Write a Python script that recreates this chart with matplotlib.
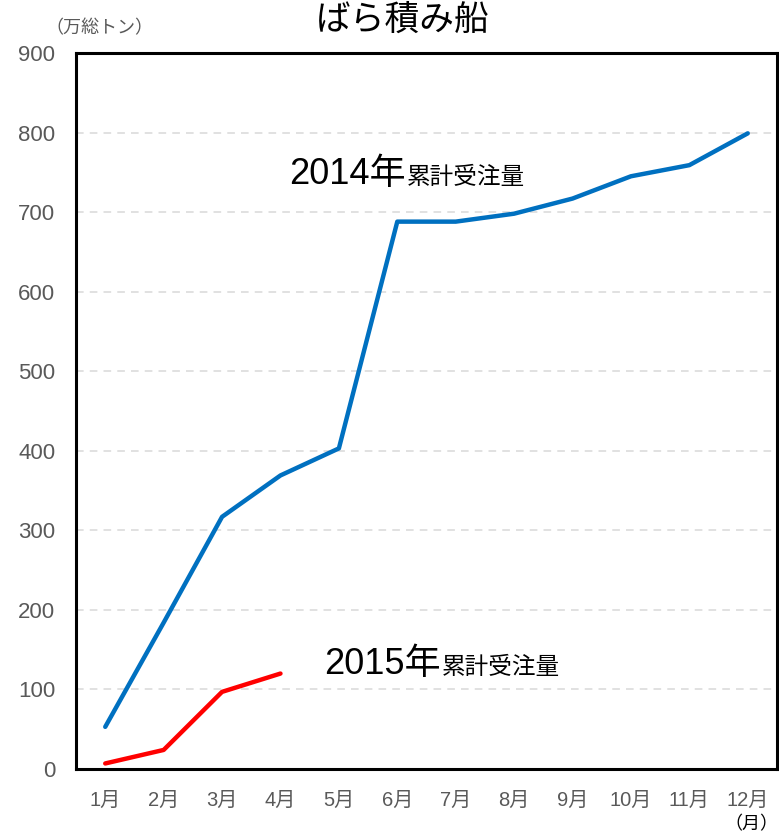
import matplotlib.pyplot as plt
import numpy as np

plt.rcParams['font.family'] = ['Liberation Sans', 'Noto Sans CJK JP', 'DejaVu Sans']

months = ['1月', '2月', '3月', '4月', '5月', '6月', '7月', '8月', '9月', '10月', '11月', '12月']
orders_2014 = [53, 184, 317, 369, 403, 688, 688, 698, 717, 745, 759, 799]
orders_2015 = [7, 24, 97, 120]
yticks = [0, 100, 200, 300, 400, 500, 600, 700, 800, 900]

fig = plt.figure(figsize=(7.79, 8.34), dpi=100)
ax = fig.add_axes([0.0976, 0.0779, 0.8998, 0.8586])

x = np.arange(len(months))
ax.plot(x, orders_2014, color='#0070C0', lw=3.2, solid_capstyle='round', zorder=3)
ax.plot(x[:len(orders_2015)], orders_2015, color='#FF0000', lw=3.2, solid_capstyle='round', zorder=3)

ax.set_xlim(-0.5, 11.5)
ax.set_ylim(0, 900)
ax.set_xticks(x)
ax.set_xticklabels(months)
ax.set_yticks(yticks)
ax.tick_params(axis='both', length=0, colors='#595959')
ax.tick_params(axis='x', pad=16, labelsize=14.5)
ax.tick_params(axis='y', pad=15, labelsize=16)

for v in yticks[1:-1]:
    ax.axhline(v, color='#d9d9d9', lw=1.1, ls=(0, (5, 4)), zorder=1)

for s in ax.spines.values():
    s.set_linewidth(2.2)
    s.set_color('black')

# labels on the lines
ax.text(3.15, 735, '2014年', fontsize=26, ha='left', va='baseline')
ax.text(5.17, 735, '累計受注量', fontsize=17, ha='left', va='baseline')
ax.text(3.75, 119, '2015年', fontsize=26, ha='left', va='baseline')
ax.text(5.76, 119, '累計受注量', fontsize=17, ha='left', va='baseline')

fig.text(0.517, 0.976, 'ばら積み船', fontsize=25, ha='center', va='center')
fig.text(0.128, 0.966, '（万総トン）', fontsize=13, ha='center', va='center', color='#595959')
fig.text(0.999, 0.011, '（月）', fontsize=13, ha='right', va='center', color='#000000')

fig.savefig('out.png', dpi=100)
